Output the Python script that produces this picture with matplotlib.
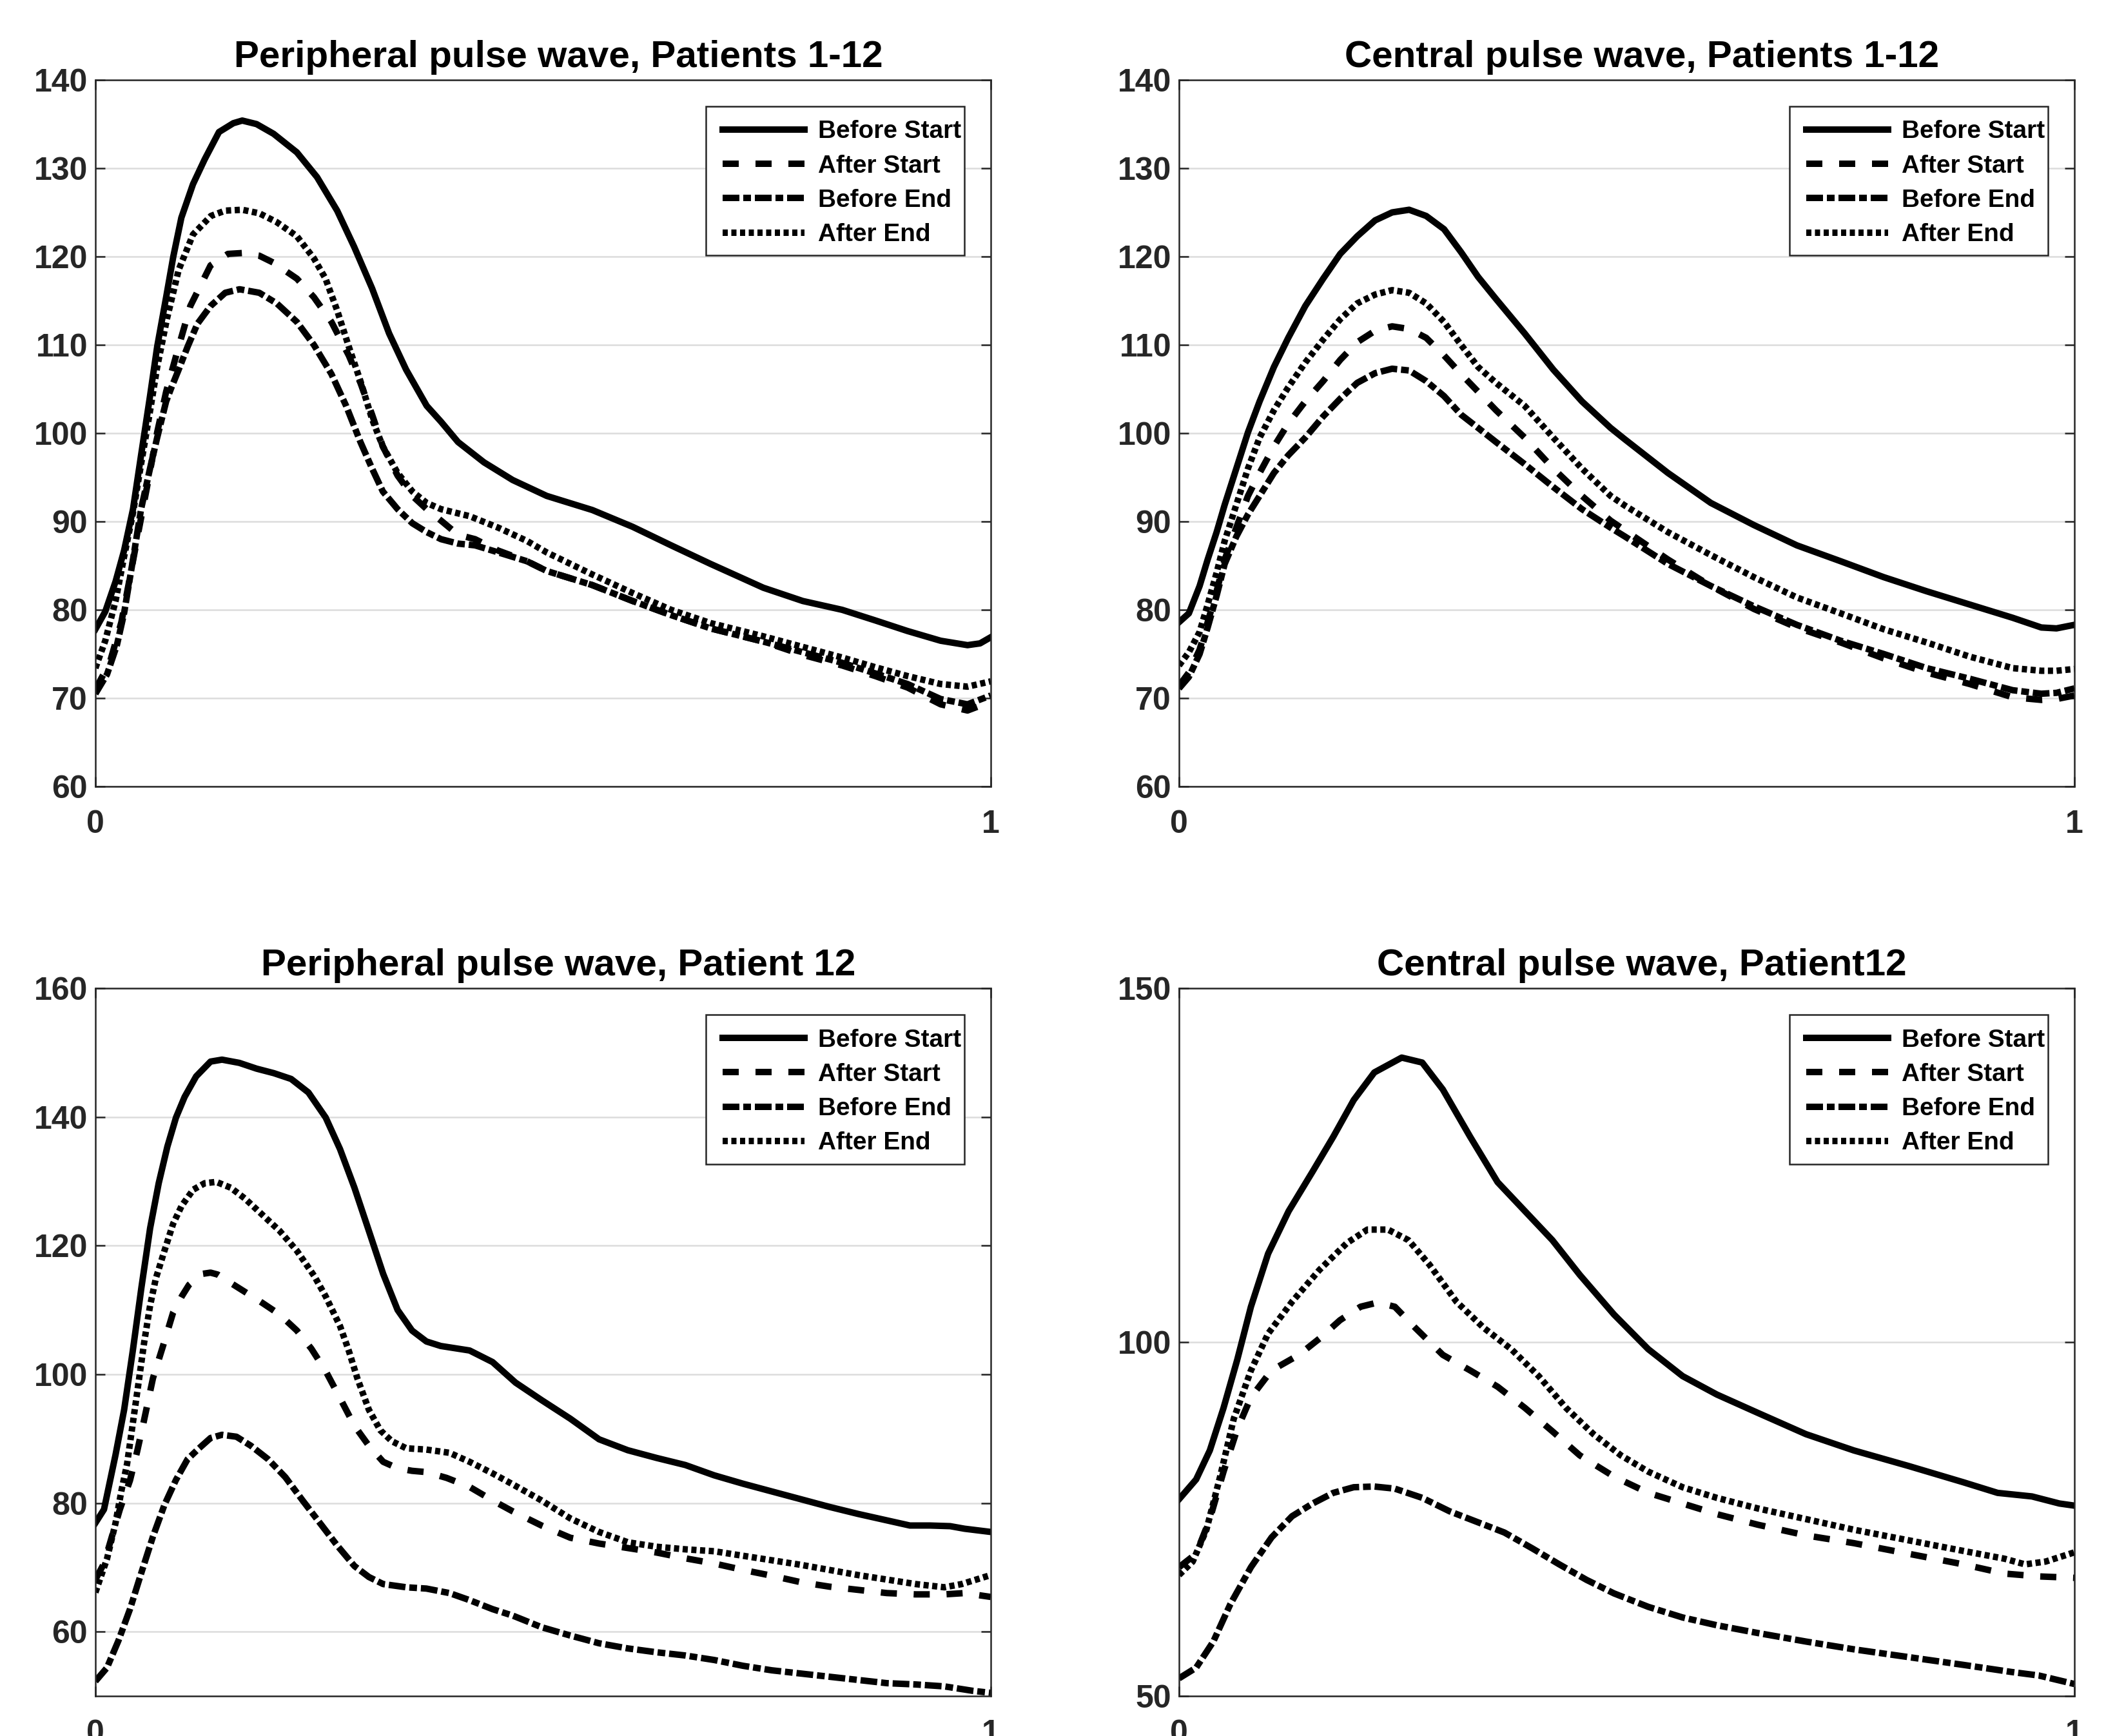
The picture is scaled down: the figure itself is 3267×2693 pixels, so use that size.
import numpy as np
import matplotlib
matplotlib.use("Agg")
import matplotlib.pyplot as plt
import matplotlib.patches as patches

plt.rcParams['font.family'] = ['Liberation Sans', 'DejaVu Sans']
plt.rcParams['font.weight'] = 'bold'

LABELS = ["Before Start", "After Start", "Before End", "After End"]

# --- Peripheral pulse wave, Patients 1-12 ---
tl_x_bs = [0, 0.011, 0.0225, 0.032, 0.042, 0.051, 0.061, 0.069, 0.079, 0.087, 0.096, 0.109, 0.122,
           0.138, 0.154, 0.164, 0.180, 0.199, 0.225, 0.2475, 0.270, 0.289, 0.309, 0.328, 0.347, 0.370,
           0.386, 0.405, 0.434, 0.466, 0.504, 0.555, 0.600, 0.643, 0.687, 0.746, 0.790, 0.834, 0.871,
           0.907, 0.944, 0.974, 0.988, 1.0]
tl_bs = [77.8, 79.8, 83.2, 86.7, 91.4, 97.5, 104.2, 109.8, 115.4, 120.0, 124.4, 128.2, 131.0,
         134.1, 135.1, 135.4, 135.0, 133.9, 131.8, 129.0, 125.2, 121.1, 116.4, 111.3, 107.2, 103.1,
         101.3, 99.0, 96.7, 94.7, 92.9, 91.3, 89.4, 87.3, 85.2, 82.5, 81.0, 80.0, 78.8,
         77.6, 76.5, 76.0, 76.2, 76.9]
tl_x_as = [0, 0.016, 0.029, 0.0386, 0.048, 0.0595, 0.069, 0.079, 0.0916, 0.106, 0.1286, 0.148, 0.164,
           0.183, 0.199, 0.225, 0.244, 0.2636, 0.283, 0.296, 0.309, 0.321, 0.3375, 0.354, 0.370, 0.386,
           0.405, 0.424, 0.450, 0.482, 0.504, 0.555, 0.600, 0.643, 0.687, 0.746, 0.790, 0.834, 0.871,
           0.907, 0.944, 0.974, 1.0]
tl_as = [71.0, 74.0, 78.6, 83.7, 88.8, 94.9, 100.1, 104.7, 109.3, 114.4, 119.0, 120.3, 120.4,
         120.1, 119.3, 117.5, 115.4, 112.6, 108.8, 105.7, 102.1, 98.5, 95.2, 92.9, 91.4, 90.1,
         88.5, 88.0, 86.7, 85.5, 84.4, 82.8, 81.0, 79.4, 77.9, 76.4, 74.9, 73.7, 72.5,
         71.2, 69.3, 68.6, 69.6]
tl_x_be = [0, 0.013, 0.024, 0.032, 0.042, 0.051, 0.061, 0.069, 0.079, 0.085, 0.093, 0.103, 0.114,
           0.1286, 0.145, 0.161, 0.183, 0.2025, 0.225, 0.244, 0.2636, 0.280, 0.296, 0.309, 0.321,
           0.3375, 0.354, 0.370, 0.386, 0.405, 0.424, 0.450, 0.482, 0.504, 0.555, 0.600, 0.643,
           0.687, 0.746, 0.790, 0.834, 0.871, 0.907, 0.944, 0.974, 1.0]
tl_be = [70.5, 72.7, 76.0, 79.6, 85.7, 91.4, 96.0, 99.5, 103.6, 105.2, 107.2, 109.8, 112.4,
         114.4, 115.9, 116.3, 115.9, 114.7, 112.6, 110.0, 106.7, 103.1, 99.0, 96.0, 93.4,
         91.4, 89.8, 88.8, 88.0, 87.5, 87.3, 86.5, 85.5, 84.4, 82.8, 81.0, 79.4,
         77.9, 76.4, 75.2, 74.0, 72.8, 71.6, 69.9, 69.3, 70.3]
tl_x_ae = [0, 0.011, 0.0225, 0.032, 0.042, 0.051, 0.061, 0.069, 0.080, 0.093, 0.109, 0.129, 0.145,
           0.164, 0.183, 0.2025, 0.225, 0.244, 0.257, 0.270, 0.283, 0.296, 0.309, 0.321, 0.3375,
           0.354, 0.370, 0.386, 0.418, 0.450, 0.482, 0.504, 0.555, 0.600, 0.643, 0.687, 0.746,
           0.790, 0.834, 0.871, 0.907, 0.944, 0.974, 1.0]
tl_ae = [73.4, 76.5, 81.0, 86.0, 91.0, 96.5, 102.5, 107.5, 113.0, 118.5, 122.5, 124.6, 125.2,
         125.3, 124.9, 123.9, 122.3, 119.8, 117.5, 113.9, 109.8, 105.9, 101.6, 98.5, 95.5,
         93.4, 92.1, 91.4, 90.6, 89.3, 87.8, 86.5, 84.0, 81.9, 80.0, 78.5, 77.0,
         75.8, 74.6, 73.5, 72.5, 71.6, 71.3, 71.9]

# --- Central pulse wave, Patients 1-12 (shared x) ---
tr_x = [0, 0.011, 0.023, 0.032, 0.042, 0.051, 0.064, 0.077, 0.090, 0.106, 0.122, 0.141, 0.161,
        0.180, 0.199, 0.219, 0.238, 0.257, 0.276, 0.296, 0.315, 0.334, 0.354, 0.386, 0.418,
        0.450, 0.482, 0.498, 0.546, 0.594, 0.642, 0.690, 0.739, 0.787, 0.835, 0.883, 0.931,
        0.963, 0.980, 1.0]
tr_bs = [78.6, 79.6, 82.7, 85.7, 88.8, 91.9, 96.0, 100.1, 103.6, 107.5, 110.8, 114.4, 117.5,
         120.3, 122.3, 124.1, 125.0, 125.3, 124.6, 123.1, 120.5, 117.7, 115.2, 111.3, 107.2,
         103.6, 100.6, 99.3, 95.5, 92.1, 89.6, 87.3, 85.5, 83.7, 82.1, 80.6, 79.1,
         78.0, 77.9, 78.3]
tr_as = [71.4, 72.9, 75.5, 78.6, 82.1, 85.7, 89.3, 92.9, 95.5, 98.5, 101.1, 103.6, 105.9,
         108.3, 110.3, 111.6, 112.1, 111.8, 110.8, 108.8, 106.7, 104.7, 102.6, 99.5, 96.0,
         92.9, 90.1, 89.0, 85.7, 82.7, 80.1, 78.0, 76.3, 74.5, 72.9, 71.6, 70.1,
         69.8, 69.9, 70.3]
tr_be = [71.1, 72.4, 75.0, 78.0, 81.6, 85.2, 88.3, 90.8, 92.9, 95.5, 97.5, 99.5, 101.9,
         103.9, 105.7, 106.8, 107.3, 107.1, 105.9, 104.2, 102.1, 100.6, 99.0, 96.5, 93.9,
         91.4, 89.3, 88.3, 85.2, 82.7, 80.4, 78.3, 76.5, 75.0, 73.4, 72.2, 70.9,
         70.5, 70.6, 71.1]
tr_ae = [73.7, 75.2, 77.5, 80.6, 84.2, 87.8, 91.9, 96.0, 99.5, 102.6, 105.2, 108.0, 110.6,
         112.9, 114.7, 115.7, 116.2, 115.9, 114.7, 112.6, 110.0, 107.5, 105.7, 103.1, 99.5,
         96.0, 92.9, 91.8, 88.8, 86.2, 83.7, 81.4, 79.6, 77.8, 76.3, 74.7, 73.4,
         73.1, 73.1, 73.3]

# --- Peripheral pulse wave, Patient 12 ---
bl_x_bs = [0, 0.0096, 0.0225, 0.0321, 0.0418, 0.0514, 0.0611, 0.0707, 0.0804, 0.090, 0.0996, 0.1125,
           0.1286, 0.1414, 0.1607, 0.180, 0.1993, 0.2186, 0.2379, 0.2572, 0.2732, 0.2893, 0.3054,
           0.3214, 0.3375, 0.3536, 0.3697, 0.3857, 0.4179, 0.4436, 0.4693, 0.4982, 0.5304, 0.5625,
           0.5946, 0.6268, 0.6589, 0.6911, 0.7232, 0.7553, 0.7875, 0.8196, 0.8518, 0.8839, 0.9096,
           0.9321, 0.9546, 0.9707, 1.0]
bl_bs = [76.9, 79.0, 87.5, 94.5, 103.7, 113.5, 122.7, 129.7, 135.4, 139.9, 143.1, 146.3,
         148.6, 148.9, 148.4, 147.5, 146.8, 145.9, 143.8, 139.9, 135.0, 129.0, 122.3,
         115.6, 110.0, 106.8, 105.1, 104.4, 103.7, 101.9, 98.7, 96.0, 93.1, 89.9,
         88.2, 87.0, 85.9, 84.3, 83.0, 81.8, 80.6, 79.4, 78.3, 77.3, 76.5,
         76.5, 76.4, 76.0, 75.5]
bl_x_as = [0, 0.0096, 0.0273, 0.0386, 0.0466, 0.053, 0.0643, 0.0755, 0.0868, 0.0964, 0.1045, 0.119,
           0.1286, 0.1366, 0.1511, 0.1671, 0.1864, 0.2057, 0.225, 0.2411, 0.2572, 0.2732, 0.2893,
           0.3054, 0.3214, 0.3375, 0.3536, 0.3697, 0.3922, 0.4179, 0.4436, 0.4661, 0.4982, 0.5304,
           0.5625, 0.5946, 0.6268, 0.6589, 0.6911, 0.7232, 0.7553, 0.7875, 0.8196, 0.8518, 0.8839,
           0.9161, 0.9482, 0.9707, 1.0]
bl_as = [68.1, 70.6, 79.0, 83.5, 88.0, 92.0, 99.4, 104.4, 109.6, 112.1, 113.9, 115.6,
         115.8, 115.5, 114.2, 112.8, 111.1, 109.3, 106.8, 104.0, 100.5, 96.3, 92.0,
         88.9, 86.4, 85.4, 85.0, 84.8, 83.9, 82.5, 80.4, 78.7, 76.5, 74.6,
         73.7, 73.0, 72.3, 71.4, 70.6, 69.6, 68.7, 67.7, 67.0, 66.5, 66.0,
         65.8, 65.8, 66.0, 65.4]
bl_x_be = [0, 0.0129, 0.0257, 0.0386, 0.0514, 0.0643, 0.0771, 0.090, 0.1029, 0.1157, 0.1286, 0.1414,
           0.1575, 0.1736, 0.1929, 0.2122, 0.2314, 0.2507, 0.27, 0.2893, 0.3054, 0.3214, 0.3472,
           0.3697, 0.3954, 0.4179, 0.4436, 0.4661, 0.4982, 0.5304, 0.5625, 0.5946, 0.6268, 0.6589,
           0.6911, 0.7232, 0.7553, 0.7875, 0.8196, 0.8518, 0.8839, 0.9161, 0.9482, 0.9803, 1.0]
bl_be = [52.3, 54.4, 58.6, 63.5, 69.2, 74.8, 79.7, 83.6, 86.8, 88.5, 90.1, 90.6,
         90.3, 88.9, 86.8, 84.0, 80.4, 76.9, 73.4, 70.2, 68.5, 67.4, 66.9,
         66.7, 66.0, 64.9, 63.5, 62.5, 60.7, 59.4, 58.2, 57.4, 56.8, 56.3,
         55.6, 54.7, 54.0, 53.5, 53.0, 52.5, 52.0, 51.8, 51.5, 50.8, 50.5]
bl_x_ae = [0, 0.0129, 0.0225, 0.0289, 0.0354, 0.0418, 0.0482, 0.0546, 0.0611, 0.0675, 0.0771, 0.0868,
           0.0964, 0.1093, 0.1221, 0.135, 0.1511, 0.1671, 0.1864, 0.2057, 0.225, 0.2443, 0.2572,
           0.2732, 0.2829, 0.2925, 0.3054, 0.3182, 0.3311, 0.3472, 0.3697, 0.3954, 0.4179, 0.4436,
           0.4661, 0.4982, 0.5304, 0.5625, 0.5946, 0.6268, 0.6589, 0.6911, 0.7232, 0.7553, 0.7875,
           0.8196, 0.8518, 0.8839, 0.9161, 0.9482, 0.9675, 1.0]
bl_ae = [66.1, 71.3, 76.9, 81.8, 86.1, 92.4, 98.7, 105.1, 110.7, 114.9, 119.2, 123.4,
         126.2, 128.7, 129.7, 129.9, 129.0, 127.3, 124.8, 122.3, 119.2, 115.3, 112.1,
         107.5, 103.7, 99.4, 94.5, 91.3, 89.6, 88.5, 88.3, 87.8, 86.4, 84.6,
         82.9, 80.4, 77.6, 75.5, 73.9, 73.2, 72.8, 72.5, 71.8, 71.1, 70.4,
         69.6, 68.8, 68.1, 67.4, 66.9, 67.4, 68.8]

# --- Central pulse wave, Patient12 ---
br_x_bs = [0, 0.0191, 0.0344, 0.0497, 0.065, 0.0803, 0.0995, 0.1224, 0.1492, 0.1722, 0.1951, 0.2181,
           0.2487, 0.2716, 0.2946, 0.3252, 0.3558, 0.3864, 0.417, 0.4476, 0.4858, 0.5241, 0.5624,
           0.6006, 0.6465, 0.7001, 0.7536, 0.8148, 0.876, 0.9143, 0.9526, 0.9832, 1.0]
br_bs = [77.8, 80.6, 84.7, 90.7, 97.5, 105.0, 112.5, 118.5, 124.1, 129.0, 134.2, 138.1,
         140.2, 139.5, 135.7, 129.0, 122.6, 118.5, 114.4, 109.5, 103.9, 99.0, 95.2,
         92.6, 90.0, 87.0, 84.7, 82.5, 80.2, 78.7, 78.2, 77.2, 76.9]
br_x_as = [0, 0.0191, 0.0344, 0.0497, 0.065, 0.0803, 0.1033, 0.1339, 0.1568, 0.1798, 0.2027, 0.2219,
           0.241, 0.264, 0.2946, 0.3252, 0.3558, 0.3864, 0.417, 0.4476, 0.4858, 0.5241, 0.5624,
           0.6006, 0.6465, 0.7001, 0.7536, 0.8148, 0.876, 0.9219, 0.9602, 1.0]
br_as = [68.2, 70.1, 75.0, 81.7, 87.7, 92.2, 96.0, 98.2, 100.5, 103.1, 105.0, 105.6,
         105.0, 102.0, 98.2, 96.0, 93.7, 90.7, 87.4, 84.0, 81.0, 78.7, 77.2,
         75.7, 74.2, 72.7, 71.6, 70.1, 68.6, 67.3, 66.9, 66.7]
br_x_be = [0, 0.0191, 0.0383, 0.0574, 0.0803, 0.1033, 0.1262, 0.1492, 0.1722, 0.1951, 0.2181, 0.241,
           0.2716, 0.3022, 0.3328, 0.3634, 0.394, 0.4247, 0.4553, 0.4858, 0.5241, 0.5624, 0.6006,
           0.6465, 0.7001, 0.7536, 0.8148, 0.876, 0.9296, 0.9602, 1.0]
br_be = [52.5, 54.0, 57.7, 63.0, 68.2, 72.4, 75.4, 77.2, 78.7, 79.5, 79.6, 79.3,
         78.0, 76.1, 74.6, 73.1, 70.9, 68.6, 66.4, 64.5, 62.6, 61.1, 60.0,
         58.9, 57.7, 56.6, 55.5, 54.4, 53.4, 52.9, 51.7]
br_x_ae = [0, 0.0153, 0.0306, 0.0459, 0.0612, 0.0803, 0.0995, 0.1262, 0.1568, 0.1875, 0.2104, 0.2334,
           0.2563, 0.2793, 0.3099, 0.3405, 0.3711, 0.4017, 0.4323, 0.4629, 0.4935, 0.5241, 0.5624,
           0.6006, 0.6465, 0.7001, 0.7536, 0.8148, 0.876, 0.9219, 0.9449, 0.9679, 1.0]
br_ae = [67.1, 69.0, 73.5, 81.0, 89.2, 96.0, 101.2, 105.7, 110.2, 114.0, 115.9, 115.9,
         114.4, 111.0, 105.7, 102.0, 99.0, 95.2, 90.7, 87.0, 84.0, 81.7, 79.5,
         78.0, 76.5, 75.0, 73.5, 72.0, 70.5, 69.4, 68.6, 69.0, 70.3]

# line styles (dash units scale with linewidth)
LW = 2.4
STYLES = ['-', (0, (2.5, 2.6)), (0, (2.6, 0.6, 1.2, 0.6)), (0, (0.8, 0.55))]
AX_COLOR = '#262626'


def draw_panel(ax, title, series, ylim, yticks):
    for (x, y), label, ls in zip(series, LABELS, STYLES):
        ax.plot(x, y, color='black', lw=LW, linestyle=ls, label=label,
                solid_joinstyle='round', dash_joinstyle='round')
    ax.set_xlim(0, 1)
    ax.set_ylim(*ylim)
    ax.set_xticks([0, 1])
    ax.set_xticklabels(['0', '1'])
    ax.set_yticks(yticks)
    ax.yaxis.grid(True, color='#dcdcdc', lw=0.6)
    ax.set_axisbelow(True)
    for sp in ax.spines.values():
        sp.set_color(AX_COLOR)
        sp.set_linewidth(0.6)
    ax.tick_params(axis='both', direction='in', length=3.6, width=0.6, color=AX_COLOR,
                   labelsize=12, labelcolor=AX_COLOR, right=True, top=True)
    ax.tick_params(axis='x', pad=8.7)
    ax.tick_params(axis='y', pad=2.9)
    for lab in ax.get_xticklabels() + ax.get_yticklabels():
        lab.set_fontweight('bold')
    ax.set_title(title, fontsize=14, fontweight='bold', color='black', pad=4.8, x=0.517)

    # legend box drawn like the MATLAB one, text slightly overflowing
    ax.add_patch(patches.Rectangle((0.6818, 0.7518), 0.2887, 0.2108, transform=ax.transAxes,
                                   facecolor='white', edgecolor=AX_COLOR, lw=0.6, zorder=4))
    leg = ax.legend(loc='upper left', bbox_to_anchor=(0.7005, 0.943), frameon=False,
                    borderpad=0, borderaxespad=0, handlelength=3.28, handletextpad=0.54,
                    labelspacing=0.445, prop={'weight': 'bold', 'size': 9.3})
    leg.set_zorder(5)


W, H = 3267, 2693
fig = plt.figure(figsize=(W / 300, H / 300), dpi=300)
cols = [148 / W, 1829 / W]
wid = 1389 / W
rows = [(1 - 1220 / H, 1096 / H), (1 - 2631 / H, 1098 / H)]

ax_tl = fig.add_axes([cols[0], rows[0][0], wid, rows[0][1]])
ax_tr = fig.add_axes([cols[1], rows[0][0], wid, rows[0][1]])
ax_bl = fig.add_axes([cols[0], rows[1][0], wid, rows[1][1]])
ax_br = fig.add_axes([cols[1], rows[1][0], wid, rows[1][1]])

draw_panel(ax_tl, "Peripheral pulse wave, Patients 1-12",
           [(tl_x_bs, tl_bs), (tl_x_as, tl_as), (tl_x_be, tl_be), (tl_x_ae, tl_ae)],
           (60, 140), np.arange(60, 141, 10))
draw_panel(ax_tr, "Central pulse wave, Patients 1-12",
           [(tr_x, tr_bs), (tr_x, tr_as), (tr_x, tr_be), (tr_x, tr_ae)],
           (60, 140), np.arange(60, 141, 10))
draw_panel(ax_bl, "Peripheral pulse wave, Patient 12",
           [(bl_x_bs, bl_bs), (bl_x_as, bl_as), (bl_x_be, bl_be), (bl_x_ae, bl_ae)],
           (50, 160), np.arange(60, 161, 20))
draw_panel(ax_br, "Central pulse wave, Patient12",
           [(br_x_bs, br_bs), (br_x_as, br_as), (br_x_be, br_be), (br_x_ae, br_ae)],
           (50, 150), [50, 100, 150])

fig.savefig("out.png", dpi=300)
